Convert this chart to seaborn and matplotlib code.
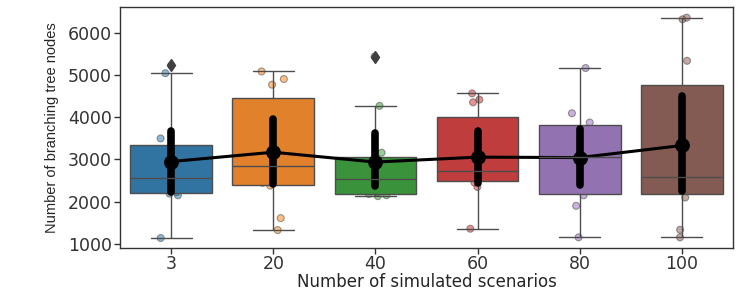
import numpy as np
import pandas as pd
import matplotlib
matplotlib.use("Agg")
import matplotlib.pyplot as plt
import seaborn as sns

# ---- data ----
scenarios = ["3", "20", "40", "60", "80", "100"]
nodes_3 = [1135, 2150, 2190, 2226, 2500, 2622, 2900, 3500, 5050, 5233]
nodes_20 = [1324, 1608, 2380, 2444, 2700, 2976, 3516, 4777, 4912, 5091]
nodes_40 = [2130, 2150, 2180, 2209, 2500, 2594, 2746, 3162, 4273, 5446]
nodes_60 = [1355, 2348, 2452, 2640, 2700, 2738, 2978, 4358, 4422, 4570]
nodes_80 = [1151, 1899, 2150, 2318, 2900, 3200, 3690, 3878, 4098, 5172]
nodes_100 = [1151, 1331, 2097, 2441, 2500, 2688, 3076, 5344, 6330, 6369]
y_ticks = [1000, 2000, 3000, 4000, 5000, 6000]

groups = [nodes_3, nodes_20, nodes_40, nodes_60, nodes_80, nodes_100]
df = pd.DataFrame({
    "scenarios": np.repeat(scenarios, [len(g) for g in groups]),
    "nodes": np.concatenate(groups),
})

sns.set_style("ticks")
plt.rcParams["font.family"] = ["DejaVu Sans"]
plt.rcParams["axes.edgecolor"] = "0.2"
plt.rcParams["xtick.color"] = "0.2"
plt.rcParams["ytick.color"] = "0.2"

fig, ax = plt.subplots(figsize=(7.47, 2.91), dpi=100)
fig.subplots_adjust(left=120 / 747, right=733 / 747, top=1 - 7 / 291, bottom=1 - 248 / 291)

np.random.seed(7)
sns.stripplot(data=df, x="scenarios", y="nodes", hue="scenarios", order=scenarios,
              hue_order=scenarios, palette="tab10", legend=False, jitter=0.12,
              size=5, alpha=0.5, linewidth=0.8, ax=ax, zorder=1)
sns.boxplot(data=df, x="scenarios", y="nodes", hue="scenarios", order=scenarios,
            hue_order=scenarios, palette="tab10", legend=False, width=0.8,
            saturation=0.75, linewidth=1.0, linecolor="0.3",
            flierprops=dict(marker="d", markerfacecolor="0.25",
                            markeredgecolor="0.25", markersize=6), ax=ax)
sns.pointplot(data=df, x="scenarios", y="nodes", order=scenarios, color="black",
              errorbar=("ci", 95), seed=11, markersize=9, linewidth=2.2,
              err_kws={"linewidth": 5.5}, ax=ax)

ax.set_xlim(-0.5, 5.5)
ax.set_ylim(898, 6622)
ax.set_yticks(y_ticks)
ax.tick_params(axis="both", labelsize=12.5, length=4, width=1, pad=2)
ax.tick_params(axis="x", pad=1)
ax.set_xlabel("Number of simulated scenarios", fontsize=12, labelpad=0)
ax.set_ylabel("Number of branching tree nodes", fontsize=10.5,
              family=["Liberation Sans", "DejaVu Sans"], labelpad=6)
for s in ax.spines.values():
    s.set_linewidth(1.0)

fig.savefig("out.png", dpi=100)
